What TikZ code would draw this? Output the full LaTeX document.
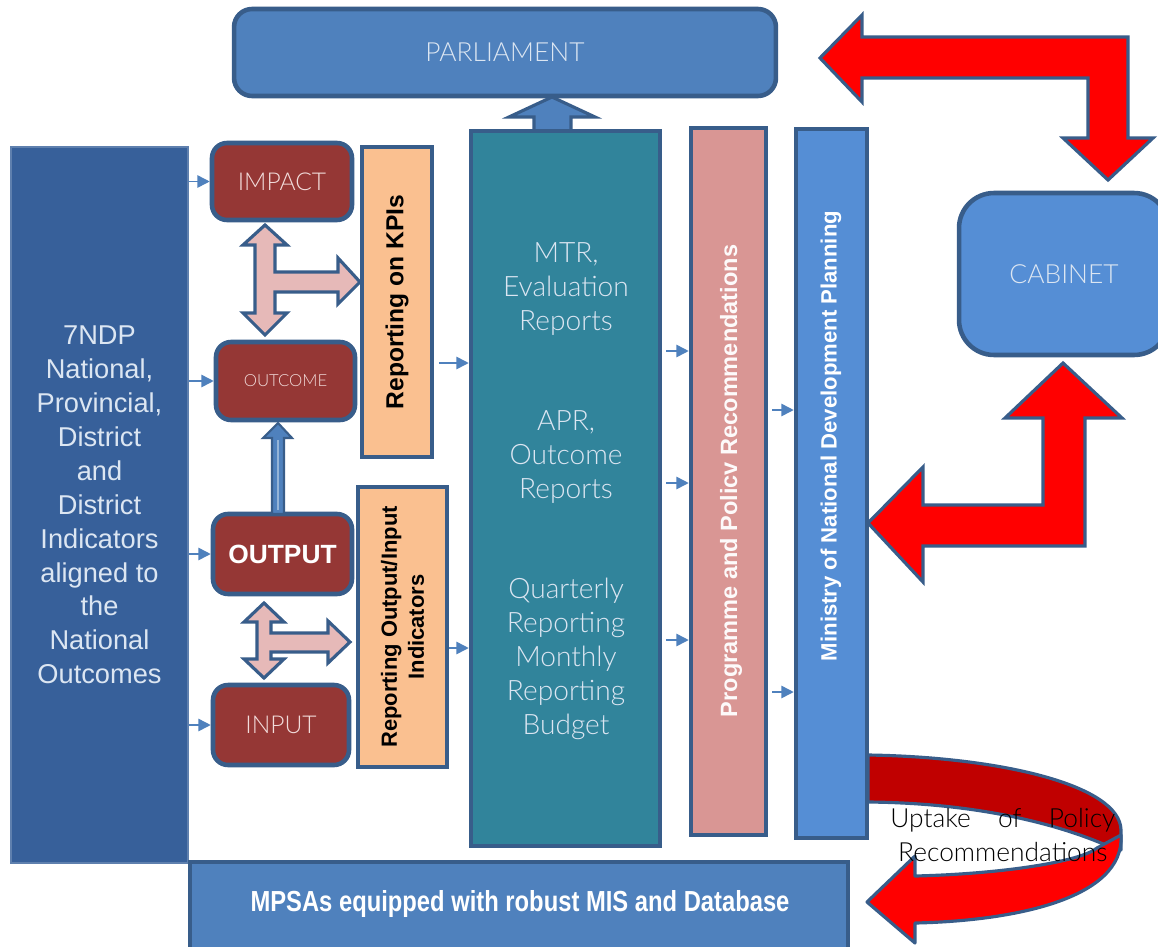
\documentclass[tikz,border=0pt]{standalone}
\usepackage{fontspec}
\setmainfont{Liberation Sans}
\newfontfamily\thinfont{Lato Light}
\newfontfamily\narrowfont[FakeStretch=0.82]{Liberation Sans}
\usetikzlibrary{arrows.meta}

% colours
\definecolor{edge}{HTML}{385D8A}
\definecolor{navy}{HTML}{37609A}
\definecolor{steel}{HTML}{4F81BD}
\definecolor{sky}{HTML}{558ED5}
\definecolor{teal}{HTML}{31849B}
\definecolor{rose}{HTML}{D99694}
\definecolor{brick}{HTML}{953735}
\definecolor{peach}{HTML}{FAC090}
\definecolor{blush}{HTML}{E6B9B8}
\definecolor{paleblue}{HTML}{DCE6F2}
\definecolor{palerose}{HTML}{F2DCDB}
\definecolor{darkred}{HTML}{C00000}

\begin{document}
\begin{tikzpicture}[x=0.02cm, y=-0.02cm,
    box/.style={draw=edge, line width=2.6pt, inner sep=0pt},
    roundbox/.style={box, rounded corners=0.3cm},
    level/.style={roundbox, fill=brick, text=palerose, minimum width=2.78cm, minimum height=1.56cm},
    report/.style={box, line width=2.2pt, fill=peach},
    column/.style={box, minimum height=14.2cm},
    shapearrow/.style={draw=edge, line width=1.8pt, line join=miter},
    flow/.style={-{Triangle[length=7pt,width=7pt]}, draw=steel, line width=0.9pt},
    thin/.style={font=\thinfont\fontsize{#1}{19.3}\selectfont, align=center},
    thin/.default=16
]
    \useasboundingbox (0,0) rectangle (1158,946);
    \fill[white] (0,0) rectangle (1158,946);

    % Parliament and Cabinet
    \node[roundbox, rounded corners=0.36cm, fill=steel, text=paleblue, thin=15,
          minimum width=10.84cm, minimum height=1.74cm] (parl) at (505,52.5) {PARLIAMENT};
    \node[roundbox, rounded corners=0.7cm, fill=sky, text=paleblue, thin=15,
          minimum width=4.2cm, minimum height=3.24cm] (cabinet) at (1064,274) {CABINET};

    % Indicators column
    \node[draw=navy!80!white, line width=0.8pt, fill=navy, text=paleblue, inner sep=0pt,
          minimum width=3.54cm, minimum height=14.32cm, align=center,
          font=\fontsize{15.5}{19.3}\selectfont] (indic) at (99.5,505)
          {7NDP\\National,\\Provincial,\\District\\and\\District\\Indicators\\aligned to\\the\\National\\Outcomes};

    % Results chain
    \node[level, thin=14, minimum width=2.8cm, minimum height=1.54cm] (impact) at (282,181.5) {IMPACT};
    \node[level, thin=9.5] (outcome) at (285.5,381) {OUTCOME};
    \node[level, minimum height=1.6cm, text=white,
          font=\bfseries\fontsize{15}{18}\selectfont] (output) at (282.5,554) {OUTPUT};
    \node[level, thin=14, minimum width=2.72cm, minimum height=1.6cm] (input) at (281,725) {INPUT};

    % Reporting boxes
    \node[report, minimum width=1.4cm, minimum height=6.2cm] (kpi) at (397,302) {};
    \node[rotate=90, font=\bfseries\fontsize{14}{16}\selectfont] (kpitext) at (kpi) {Reporting on KPIs};
    \node[report, minimum width=1.78cm, minimum height=5.6cm] (oiind) at (402.5,627) {};
    \node[rotate=90, align=center, font=\bfseries\fontsize{12.5}{15.3}\selectfont] (oiindtext) at (oiind)
          {Reporting Output/Input\\Indicators};

    % Up arrow into Parliament
    \draw[shapearrow, fill=steel] (552,97) -- (595,117) -- (571,117) -- (571,131)
        -- (534,131) -- (534,117) -- (509,117) -- cycle;

    % Reports column
    \node[column, fill=teal, minimum width=3.78cm, minimum height=14.3cm] (reports) at (565.5,488.5) {};
    \node[thin, text=paleblue] (mtr) at (566,289) {MTR,\\Evaluation\\Reports};
    \node[thin, text=paleblue] (apr) at (566,457) {APR,\\Outcome\\Reports};
    \node[thin, text=paleblue] (qrt) at (566,659) {Quarterly\\Reporting\\Monthly\\Reporting\\Budget};

    % Recommendations and Ministry columns
    \node[column, fill=rose, minimum width=1.5cm, minimum height=14.14cm] (recs) at (728.5,481.5) {};
    \node[rotate=90, text=white!95!rose, font=\bfseries\fontsize{13.4}{16}\selectfont] (recstext)
          at (731,481) {Programme and Policv Recommendations};

    % Uptake loop (behind the Ministry column)
    \draw[shapearrow, line join=round, fill=darkred] (868,755) .. controls (1000,757) and (1120,785) .. (1121,830)
        -- (1121,850) -- (1108,846) .. controls (1060,825) and (980,803) .. (868,802) -- cycle;
    \draw[shapearrow, line join=round, fill=red] (1121,835) .. controls (1125,900) and (1010,921) .. (915,923)
        -- (915,943) -- (867,902) -- (915,856) -- (915,876)
        .. controls (1000,874) and (1080,862) .. (1097,848) -- cycle;

    \node[column, fill=sky, minimum width=1.42cm, minimum height=14.18cm] (mndp) at (831.5,483.5) {};
    \node[rotate=90, text=white, font=\bfseries\fontsize{12.6}{15}\selectfont] (mndptext)
          at (831,436) {Ministry of National Development Planning};

    % MPSAs bar
    \node[box, fill=steel, minimum width=13.16cm, minimum height=1.96cm] (mpsa) at (519,911) {};
    \node[text=white, font=\narrowfont\bfseries\fontsize{16.5}{19}\selectfont] (mpsatext)
          at (520,904) {MPSAs equipped with robust MIS and Database};

    % Output feeds Outcome
    \draw[shapearrow, line width=1.2pt, fill=steel] (278,423) -- (292,438) -- (284,438) -- (284,514)
        -- (272,514) -- (272,438) -- (263,438) -- cycle;
    \draw[steel!60!white, line width=0.8pt] (278,440) -- (278,510);

    % Two-way links between the levels and the reporting boxes
    \draw[shapearrow, fill=blush] (265,225) -- (287,245) -- (275,245) -- (275,272) -- (338,272)
        -- (338,258) -- (360,282) -- (338,304) -- (338,292) -- (275,292) -- (275,313) -- (287,313)
        -- (265,335) -- (243,313) -- (255,313) -- (255,245) -- (243,245) -- cycle;
    \draw[shapearrow, fill=blush] (264,603) -- (284,622) -- (271,622) -- (271,633) -- (328,633)
        -- (328,621) -- (350,642) -- (328,663) -- (328,652) -- (271,652) -- (271,659) -- (284,659)
        -- (264,678) -- (244,659) -- (257,659) -- (257,622) -- (244,622) -- cycle;

    % Red links with Parliament and Cabinet
    \draw[shapearrow, fill=red] (820,58) -- (862,15) -- (862,37) -- (1128,37) -- (1128,138)
        -- (1153,138) -- (1108,180) -- (1063,138) -- (1088,138) -- (1088,78) -- (862,78)
        -- (862,102) -- cycle;
    \draw[shapearrow, fill=red] (1063,363) -- (1122,418) -- (1085,418) -- (1085,546) -- (923,546)
        -- (923,582) -- (868,523) -- (923,467) -- (923,505) -- (1043,505) -- (1043,418)
        -- (1005,418) -- cycle;

    % Small flow arrows
    \foreach \lvl in {impact, outcome, output, input}
        \draw[flow] (indic.east |- \lvl) -- (\lvl.west);

    \coordinate (k1) at (0,363);
    \coordinate (k2) at (0,648);
    \draw[flow] ([xshift=0.1cm]kpi.east |- k1) -- (reports.west |- k1);
    \draw[flow] (oiind.east |- k2) -- (reports.west |- k2);

    \foreach \yy [count=\i] in {351,483,640} {
        \coordinate (r\i) at (0,\yy);
        \draw[flow] ([xshift=0.08cm]reports.east |- r\i) -- (recs.west |- r\i);
    }
    \foreach \yy [count=\i] in {410,692} {
        \coordinate (m\i) at (0,\yy);
        \draw[flow] ([xshift=0.08cm]recs.east |- m\i) -- (mndp.west |- m\i);
    }

    % Loop label
    \node[anchor=north west, inner sep=0pt, align=left, thin=15] (uptake) at (890,808)
        {\makebox[4.5cm][s]{Uptake\hfill of\hfill Policy}\\Recommendations};
\end{tikzpicture}
\end{document}
